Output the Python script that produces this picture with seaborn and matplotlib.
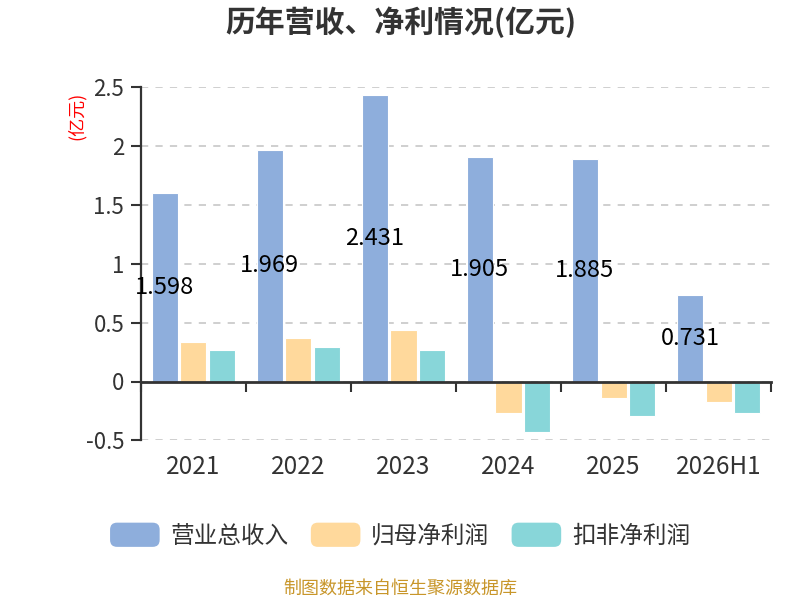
import numpy as np
import pandas as pd
import seaborn as sns
import matplotlib.pyplot as plt
from matplotlib.patches import FancyBboxPatch
from matplotlib.legend_handler import HandlerPatch
from matplotlib.ticker import FixedLocator

years = ['2021', '2022', '2023', '2024', '2025', '2026H1']
series_names = ['营业总收入', '归母净利润', '扣非净利润']
revenue = [1.598, 1.969, 2.431, 1.905, 1.885, 0.731]
net_profit = [0.338, 0.369, 0.441, -0.271, -0.136, -0.175]
deducted_profit = [0.271, 0.296, 0.268, -0.430, -0.294, -0.271]
colors = ['#8eaedc', '#ffd99c', '#88d6d9']

df = pd.DataFrame({
    '年份': years * 3,
    '指标': [series_names[0]] * 6 + [series_names[1]] * 6 + [series_names[2]] * 6,
    '数值': revenue + net_profit + deducted_profit,
})

sns.set_style('white')
plt.rcParams['font.family'] = ['Noto Sans CJK SC', 'DejaVu Sans']
plt.rcParams['axes.unicode_minus'] = False

fig, ax = plt.subplots(figsize=(8, 6), dpi=100)
fig.subplots_adjust(left=0.176, right=0.964, top=0.855, bottom=0.266)

sns.barplot(data=df, x='年份', y='数值', hue='指标', palette=colors,
            saturation=1, width=0.82, gap=0.09, edgecolor='white', linewidth=0.8,
            legend=False, ax=ax, zorder=3)

# data labels on revenue bars (middle of bar)
ax.bar_label(ax.containers[0], labels=[f'{v:.3f}' for v in revenue],
             label_type='center', fontsize=17, color='black', zorder=5)

ax.set_ylim(-0.5, 2.5)
yt = np.arange(-0.5, 2.51, 0.5)
ax.set_yticks(yt)
ax.set_yticklabels([f'{v:g}' for v in yt], fontsize=16, color='#333333')
ax.set_xlim(-0.5, 5.5)
ax.set_xlabel('')
ax.set_ylabel('')

ax.grid(axis='y', color='#cccccc', linestyle=(0, (4, 4)), linewidth=1.3, zorder=0)
ax.grid(axis='x', visible=False)
for s in ['top', 'right']:
    ax.spines[s].set_visible(False)
ax.spines['left'].set_color('#333333')
ax.spines['left'].set_linewidth(1.6)
ax.spines['bottom'].set_position(('data', 0))
ax.spines['bottom'].set_color('#333333')
ax.spines['bottom'].set_linewidth(2)
ax.spines['bottom'].set_zorder(4)

ax.tick_params(axis='y', which='major', direction='out', length=7, width=1.5,
               color='#333333', pad=5, left=True)
ax.xaxis.set_minor_locator(FixedLocator(np.arange(-0.5, 6, 1)))
ax.tick_params(axis='x', which='minor', direction='out', length=7, width=1.5,
               color='#333333', bottom=True)
ax.tick_params(axis='x', which='major', length=0, pad=52, labelsize=17.5,
               labelcolor='#333333')


class RoundHandler(HandlerPatch):
    def create_artists(self, legend, orig_handle, xdescent, ydescent,
                       width, height, fontsize, trans):
        p = FancyBboxPatch((-xdescent, -ydescent), width, height,
                           boxstyle='round,pad=0,rounding_size=5',
                           facecolor=orig_handle.get_facecolor(),
                           edgecolor='none', transform=trans)
        return [p]


handles = [plt.Rectangle((0, 0), 1, 1, facecolor=c) for c in colors]
fig.legend(handles, series_names, loc='center', bbox_to_anchor=(0.5, 0.108),
           ncol=3, frameon=False, fontsize=17, handlelength=2.1,
           handleheight=1.2, handletextpad=0.45, columnspacing=0.95,
           labelcolor='#333333',
           handler_map={plt.Rectangle: RoundHandler()})

fig.text(0.501, 1 - 22 / 600, '历年营收、净利情况(亿元)', ha='center', va='center',
         fontsize=21.5, fontweight='bold', color='#333333')
fig.text(77 / 800, 1 - 116 / 600, '(亿元)', rotation=90, ha='center', va='center',
         fontsize=13, color='red')
fig.text(0.5, 1 - 589 / 600, '制图数据来自恒生聚源数据库', ha='center', va='center',
         fontsize=13, color='#c8962a')

fig.savefig('out.png', dpi=100)
